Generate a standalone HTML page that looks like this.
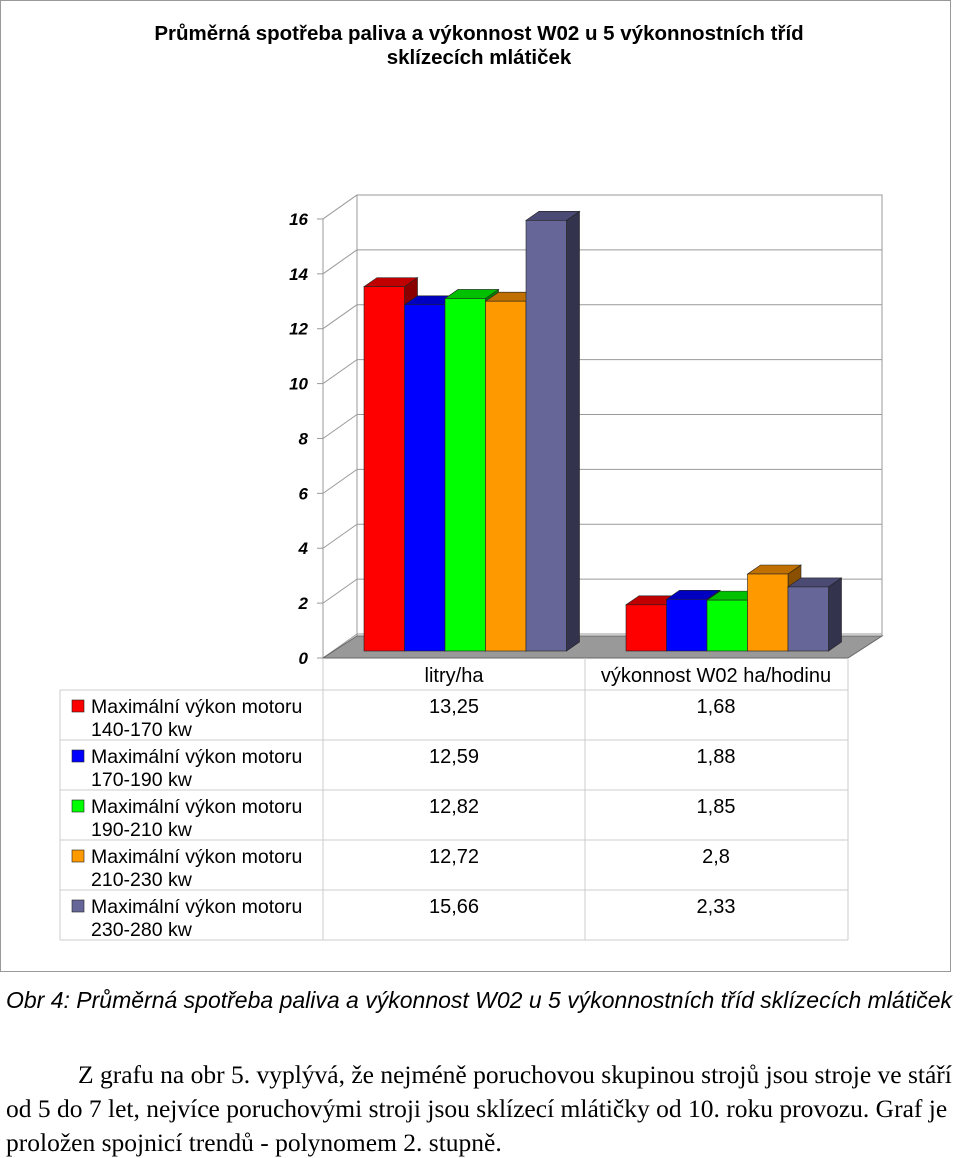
<!DOCTYPE html>
<html><head><meta charset="utf-8"><style>
body{margin:0;background:#fff;width:960px;height:1158px;overflow:hidden;position:relative;font-family:"Liberation Sans",sans-serif}
.cap{position:absolute;left:6px;top:987px;font-size:23px;font-style:italic;white-space:nowrap}
.txt{position:absolute;left:6px;font-family:"Liberation Serif",serif;font-size:25.5px;white-space:nowrap}
</style></head><body>
<svg id="chart" width="960" height="980" style="position:absolute;left:0;top:0" font-family="Liberation Sans, sans-serif"></svg>
<div class="cap">Obr 4: Průměrná spotřeba paliva a výkonnost W02 u 5 výkonnostních tříd sklízecích mlátiček</div>
<div class="txt" style="top:1060px;left:78px">Z grafu na obr 5. vyplývá, že nejméně poruchovou skupinou strojů jsou stroje ve stáří</div>
<div class="txt" style="top:1094px">od 5 do 7 let, nejvíce poruchovými stroji jsou  sklízecí mlátičky od 10. roku provozu. Graf je</div>
<div class="txt" style="top:1128px">proložen spojnicí trendů -  polynomem 2. stupně.</div>
<script>
const categories=["litry/ha","výkonnost W02 ha/hodinu"];
const seriesNames=["Maximální výkon motoru 140-170 kw","Maximální výkon motoru 170-190 kw","Maximální výkon motoru 190-210 kw","Maximální výkon motoru 210-230 kw","Maximální výkon motoru 230-280 kw"];
const litry=[13.25,12.59,12.82,12.72,15.66];
const vykonnost=[1.68,1.88,1.85,2.8,2.33];
const labelsLitry=["13,25","12,59","12,82","12,72","15,66"];
const labelsVyk=["1,68","1,88","1,85","2,8","2,33"];
const ticks=[0,2,4,6,8,10,12,14,16];
const colors=[["#ff0000","#c00000","#8a0000"],["#0000ff","#0000c0","#00008a"],["#00ff00","#00c000","#008a00"],["#ff9900","#c07000","#8a5000"],["#666699","#4a4a75","#33334d"]];
const svg=document.getElementById('chart');const NS="http://www.w3.org/2000/svg";
function el(t,a,p){const e=document.createElementNS(NS,t);for(const k in a)e.setAttribute(k,a[k]);(p||svg).appendChild(e);return e;}
const fy=v=>658-v*27.44, by=v=>634-v*27.44, bary=v=>651-v*27.5;
let e=el('rect',{x:0.5,y:0.5,width:950,height:971,fill:'#fff',stroke:'#999'});

e=el('text',{x:479,y:40,'text-anchor':'middle','font-size':20.5,'font-weight':'bold'});e.textContent="Průměrná spotřeba paliva a výkonnost W02 u 5 výkonnostních tříd";

e=el('text',{x:479,y:64,'text-anchor':'middle','font-size':20.5,'font-weight':'bold'});e.textContent="sklízecích mlátiček";

el('polygon',{points:'357,195 882,195 882,636 357,636',fill:'#fff',stroke:'#999'});
el('line',{x1:323,y1:fy(16),x2:323,y2:658,stroke:'#999'});
ticks.forEach(t=>{
 el('line',{x1:357,y1:by(t),x2:882,y2:by(t),stroke:'#999'});
 el('line',{x1:323,y1:fy(t),x2:357,y2:by(t),stroke:'#999'});
 el('line',{x1:317,y1:fy(t),x2:323,y2:fy(t),stroke:'#999'});
 const tx=el('text',{x:308,y:fy(t)+6,'text-anchor':'end','font-size':17,'font-weight':'bold','font-style':'italic'});tx.textContent=t;
 
});
e=el('polygon',{points:'323,658 848,658 882,636 357,636',fill:'#999',stroke:'#666'});

const groupX=[364,626],bw=40.5,dx=13,dy=9;
[litry,vykonnost].forEach((arr,g)=>{arr.forEach((v,i)=>{
 const x=groupX[g]+i*bw,top=bary(v),c=colors[i];
 const gg=el('g',{});
 el('polygon',{points:`${x+bw},${top} ${x+bw+dx},${top-dy} ${x+bw+dx},${651-dy} ${x+bw},651`,fill:c[2],stroke:'#222','stroke-width':0.6},gg);
 el('polygon',{points:`${x},${top} ${x+dx},${top-dy} ${x+bw+dx},${top-dy} ${x+bw},${top}`,fill:c[1],stroke:'#222','stroke-width':0.6},gg);
 el('rect',{x:x,y:top,width:bw,height:651-top,fill:c[0],stroke:'#222','stroke-width':0.6},gg);
});});
const tg=el('g',{stroke:'#ccc',fill:'none'});
el('line',{x1:323,y1:658,x2:323,y2:940},tg);el('line',{x1:585,y1:658,x2:585,y2:940},tg);el('line',{x1:848,y1:658,x2:848,y2:940},tg);
el('line',{x1:323,y1:690,x2:848,y2:690},tg);el('line',{x1:60,y1:940,x2:848,y2:940},tg);
for(let r=1;r<5;r++)el('line',{x1:60,y1:690+r*50,x2:848,y2:690+r*50},tg);
el('line',{x1:60,y1:690,x2:60,y2:940},tg);el('line',{x1:60,y1:690,x2:323,y2:690},tg);
categories.forEach((c,g)=>{const t=el('text',{x:g?716:454,y:682,'text-anchor':'middle','font-size':20});t.textContent=c;
 });
seriesNames.forEach((n,i)=>{const y=690+i*50;
 const r=el('rect',{x:72,y:y+10,width:12,height:12,fill:colors[i][0],stroke:'#222','stroke-width':0.6});
 
 const parts=n.split(' ');
 let t=el('text',{x:91,y:y+23,'font-size':19.5});t.textContent=parts.slice(0,3).join(' ');
 t=el('text',{x:91,y:y+46,'font-size':19.5});t.textContent=parts.slice(3).join(' ');
 
 t=el('text',{x:454,y:y+23,'text-anchor':'middle','font-size':20});t.textContent=labelsLitry[i];
 t=el('text',{x:716,y:y+23,'text-anchor':'middle','font-size':20});t.textContent=labelsVyk[i];
});
</script>
</body></html>
